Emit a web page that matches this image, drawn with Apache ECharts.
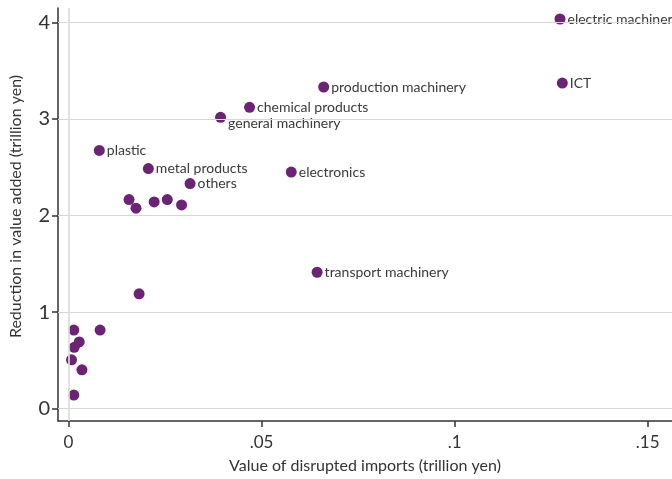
<!DOCTYPE html>
<html>
<head>
<meta charset="utf-8">
<script src="https://cdn.jsdelivr.net/npm/echarts@6/dist/echarts.min.js"></script>
<style>html,body{margin:0;padding:0;background:#fff}#c{width:672px;height:479px}</style>
</head>
<body>
<div id="c"></div>
<script>
const names = ["electric machinery","ICT","production machinery","chemical products","general machinery","plastic","metal products","others","electronics","transport machinery","","","","","","","","","","","","",""];
const importsX = [0.1273,0.1279,0.0661,0.0469,0.0394,0.0080,0.0207,0.0315,0.0577,0.0644,0.0157,0.0175,0.0222,0.0256,0.0293,0.0183,0.0014,0.0082,0.0028,0.0015,0.0008,0.0035,0.0014];
const reductionY = [4.034,3.371,3.330,3.120,3.016,2.673,2.485,2.330,2.449,1.412,2.165,2.075,2.140,2.165,2.109,1.189,0.814,0.814,0.691,0.635,0.505,0.402,0.140];
const xTicks = [0, 0.05, 0.1, 0.15];
const xTickLabels = ["0", ".05", ".1", ".15"];
const yTicks = [0, 1, 2, 3, 4];
const yTickLabels = ["0", "1", "2", "3", "4"];

const font = "Lato, 'Open Sans', sans-serif";
const data = importsX.map((x, i) => {
  const d = { value: [x, reductionY[i]], name: names[i] };
  if (names[i] === "general machinery") d.label = { offset: [0, 6] };
  return d;
});

const chart = echarts.init(document.getElementById('c'), null, { renderer: 'canvas' });
chart.setOption({
  animation: false,
  grid: { left: 57, right: 0, top: 8, bottom: 56 },
  xAxis: {
    type: 'value', min: -0.0027, max: 0.1563,
    name: 'Value of disrupted imports (trillion yen)',
    nameLocation: 'middle', nameGap: 37,
    nameTextStyle: { fontFamily: font, fontSize: 16, color: '#333' },
    axisLine: { show: true, onZero: false, lineStyle: { color: '#333', width: 1.5 } },
    axisTick: { show: true, length: 6, customValues: xTicks, lineStyle: { color: '#333', width: 1.5 } },
    axisLabel: { customValues: xTicks, margin: 13, fontFamily: font, fontSize: 17, color: '#333',
      formatter: v => { const i = xTicks.findIndex(t => Math.abs(t - v) < 1e-9); return i >= 0 ? xTickLabels[i] : ''; } },
    splitLine: { show: false }
  },
  yAxis: {
    type: 'value', min: -0.128, max: 4.148,
    name: 'Reduction in value added (trillion yen)',
    nameLocation: 'middle', nameGap: 34,
    nameTextStyle: { fontFamily: font, fontSize: 16, color: '#333', padding: [0, 0, 0, 16] },
    axisLine: { show: true, onZero: false, lineStyle: { color: '#333', width: 1.5 } },
    axisTick: { show: true, length: 6, customValues: yTicks, lineStyle: { color: '#333', width: 1.5 } },
    axisLabel: { customValues: yTicks, margin: 8, fontFamily: font, fontSize: 20, color: '#333',
      formatter: v => { const i = yTicks.findIndex(t => Math.abs(t - v) < 1e-9); return i >= 0 ? yTickLabels[i] : ''; } },
    splitLine: { show: false }
  },
  series: [{
    type: 'scatter',
    symbolSize: 11,
    itemStyle: { color: '#6b2373', opacity: 1 },
    label: { show: true, position: 'right', distance: 2, formatter: p => p.name,
      fontFamily: font, fontSize: 14, color: '#3a3a3a' },
    markLine: {
      silent: true, symbol: 'none', label: { show: false }, animation: false,
      data: yTicks.map(v => ({ yAxis: v, lineStyle: { color: '#d6d6d6', width: 1, type: 'solid' } }))
        .concat([{ xAxis: 0, lineStyle: { color: '#dcdcdc', width: 1.7, type: 'solid' } }])
    },
    data: data,
    z: 3
  }]
});
</script>
</body>
</html>
